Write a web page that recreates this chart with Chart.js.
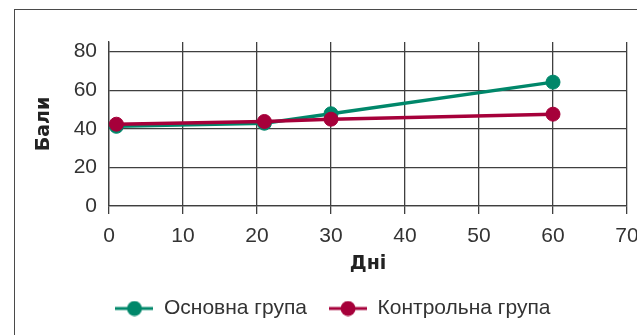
<!DOCTYPE html>
<html>
<head>
<meta charset="utf-8">
<script src="https://cdn.jsdelivr.net/npm/chart.js@4"></script>
<style>
  html, body { margin: 0; padding: 0; background: #fff; overflow: hidden; }
  #wrap { position: relative; width: 637px; height: 335px; }
  #frame { position: absolute; left: 14px; top: 9px; width: 700px; height: 400px; border: 1.5px solid #4a4a4a; }
  canvas { position: absolute; left: 0; top: 0; }
</style>
</head>
<body>
<div id="wrap">
  <div id="frame"></div>
  <canvas id="chart" width="637" height="335"></canvas>
</div>
<script>
const days = [1, 21, 30, 60];
const mainGroup = [41.3, 42.9, 47.8, 64.2];
const controlGroup = [42.4, 43.8, 45.0, 47.6];
const xTicks = [0, 10, 20, 30, 40, 50, 60, 70];
const yTicks = [0, 20, 40, 60, 80];
const seriesNames = ['Основна група', 'Контрольна група'];

const green = '#00876a';
const red = '#a6003a';
const gridColor = '#3f3f3f';

const toPoints = (vals) => vals.map((v, i) => ({ x: days[i], y: v }));

// little line-with-dot icons for the legend
const makeIcon = (color) => {
  const c = document.createElement('canvas');
  c.width = 38;
  c.height = 16;
  const g = c.getContext('2d');
  g.strokeStyle = color;
  g.lineWidth = 3;
  g.beginPath();
  g.moveTo(0, 8);
  g.lineTo(38, 8);
  g.stroke();
  g.fillStyle = color;
  g.beginPath();
  g.arc(19, 8, 7.5, 0, Math.PI * 2);
  g.fill();
  return c;
};
const legendIcons = [makeIcon(green), makeIcon(red)];

const tickFont = { family: "'Liberation Sans', Arial, sans-serif", size: 21 };
const titleFont = { family: "'DejaVu Sans', sans-serif", size: 19, weight: 'bold' };

new Chart(document.getElementById('chart'), {
  type: 'line',
  data: {
    datasets: [
      {
        label: seriesNames[0],
        data: toPoints(mainGroup),
        borderColor: green,
        backgroundColor: green,
        borderWidth: 3.5,
        pointRadius: 7,
        pointBorderWidth: 1,
        pointBorderColor: green,
        pointBackgroundColor: green,
        order: 1,
      },
      {
        label: seriesNames[1],
        data: toPoints(controlGroup),
        borderColor: red,
        backgroundColor: red,
        borderWidth: 3.5,
        pointRadius: 7,
        pointBorderWidth: 1,
        pointBorderColor: red,
        pointBackgroundColor: red,
        order: 0,
      },
    ],
  },
  options: {
    responsive: false,
    animation: false,
    layout: { padding: { top: 42, left: 29, right: 0, bottom: 6 } },
    plugins: {
      tooltip: { enabled: false },
      legend: {
        position: 'bottom',
        labels: {
          usePointStyle: true,
          pointStyleWidth: 38,
          padding: 22,
          color: '#333',
          font: { family: "'Liberation Sans', Arial, sans-serif", size: 21 },
          generateLabels: (chart) =>
            Chart.defaults.plugins.legend.labels.generateLabels(chart)
              .sort((a, b) => a.datasetIndex - b.datasetIndex)
              .map((item) => ({ ...item, pointStyle: legendIcons[item.datasetIndex] })),
        },
      },
    },
    scales: {
      x: {
        type: 'linear',
        min: 0,
        max: 70,
        afterBuildTicks: (scale) => { scale.ticks = xTicks.map((v) => ({ value: v })); },
        afterFit: (scale) => { scale.height = 70; scale.paddingRight = 10; },
        grid: { color: gridColor, lineWidth: 1.3, tickLength: 8, tickColor: gridColor },
        border: { color: gridColor, width: 1.3 },
        ticks: { color: '#333', font: tickFont, padding: 10, maxRotation: 0 },
        title: { display: true, text: 'Дні', color: '#222', font: titleFont, padding: { top: 0, bottom: 1 } },
      },
      y: {
        min: 0,
        max: 85,
        afterBuildTicks: (scale) => { scale.ticks = yTicks.map((v) => ({ value: v })); },
        afterFit: (scale) => { scale.width = 80; },
        grid: { color: gridColor, lineWidth: 1.3, drawTicks: false },
        border: { color: gridColor, width: 1.3 },
        ticks: { color: '#333', font: tickFont, padding: 12 },
        title: { display: true, text: 'Бали', color: '#222', font: titleFont, padding: { top: 4, bottom: 0 } },
      },
    },
  },
});
</script>
</body>
</html>
